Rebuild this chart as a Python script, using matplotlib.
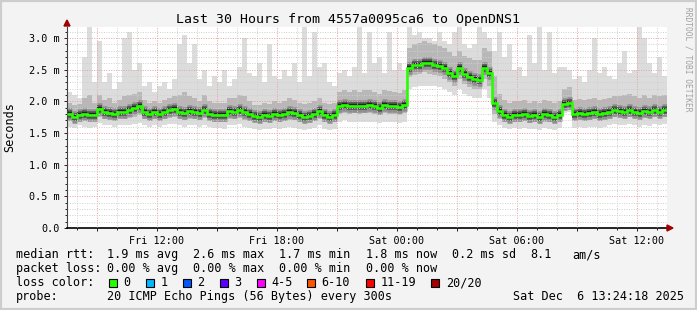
import numpy as np
import matplotlib
matplotlib.use("Agg")
import matplotlib.pyplot as plt
from matplotlib.patches import Rectangle, Polygon

# SmokePing style graph: last 30 hours, one value every 15 minutes (ms)
# x axis is hours since Fri 07:30
rtt_median = [
    1.80, 1.76, 1.79, 1.80, 1.78, 1.79, 1.88, 1.84, 1.82, 1.80, 1.84, 1.84,
    1.86, 1.90, 1.93, 1.84, 1.80, 1.83, 1.80, 1.84, 1.86, 1.88, 1.84, 1.82,
    1.85, 1.84, 1.82, 1.86, 1.80, 1.79, 1.79, 1.78, 1.85, 1.84, 1.86, 1.83,
    1.80, 1.77, 1.76, 1.78, 1.77, 1.80, 1.78, 1.80, 1.83, 1.81, 1.78, 1.76,
    1.77, 1.80, 1.85, 1.78, 1.76, 1.78, 1.93, 1.94, 1.92, 1.93, 1.92, 1.93,
    1.94, 1.92, 1.90, 1.94, 1.93, 1.92, 1.91, 1.94, 2.52, 2.57, 2.58, 2.61,
    2.60, 2.58, 2.56, 2.52, 2.45, 2.40, 2.52, 2.43, 2.38, 2.35, 2.34, 2.52,
    2.45, 1.98, 1.85, 1.78, 1.76, 1.79, 1.78, 1.80, 1.77, 1.78, 1.76, 1.80,
    1.78, 1.76, 1.79, 1.96, 1.97, 1.80, 1.82, 1.80, 1.81, 1.83, 1.80, 1.82,
    1.84, 1.86, 1.85, 1.84, 1.86, 1.84, 1.82, 1.85, 1.83, 1.86, 1.84, 1.86]

smoke_max = [
    2.15, 2.10, 2.05, 2.70, 3.17, 2.30, 2.95, 2.30, 2.45, 2.20, 2.30, 3.00,
    3.10, 2.50, 2.60, 2.25, 2.30, 2.15, 2.25, 2.30, 2.20, 2.35, 2.90, 3.05,
    2.60, 2.90, 2.35, 2.50, 2.25, 2.40, 2.30, 2.50, 2.25, 2.35, 2.55, 3.00,
    2.45, 2.40, 2.60, 2.30, 2.90, 2.40, 2.35, 2.50, 2.40, 2.60, 2.30, 3.17,
    2.40, 3.10, 2.55, 2.60, 2.30, 2.25, 2.45, 2.50, 2.40, 2.55, 3.17, 2.45,
    3.10, 2.60, 2.70, 2.45, 3.10, 2.50, 2.60, 2.50, 3.17, 3.05, 3.10, 3.00,
    3.00, 2.95, 3.10, 2.95, 2.90, 3.10, 3.17, 2.90, 2.85, 2.90, 3.17, 3.10,
    3.00, 2.80, 3.10, 2.70, 2.90, 2.50, 2.55, 2.40, 3.05, 2.60, 3.17, 2.50,
    3.10, 2.45, 2.55, 2.55, 2.50, 2.35, 2.40, 2.30, 2.50, 3.00, 2.45, 2.55,
    2.40, 2.35, 2.60, 2.80, 2.45, 2.50, 3.17, 3.00, 2.60, 2.45, 2.70, 2.40]

smoke_min = [
    1.60, 1.58, 1.62, 1.60, 1.58, 1.60, 1.66, 1.62, 1.62, 1.60, 1.63, 1.62,
    1.62, 1.64, 1.66, 1.62, 1.60, 1.62, 1.60, 1.62, 1.64, 1.65, 1.62, 1.60,
    1.62, 1.62, 1.60, 1.63, 1.60, 1.58, 1.58, 1.57, 1.62, 1.62, 1.64, 1.60,
    1.58, 1.56, 1.55, 1.57, 1.56, 1.58, 1.57, 1.58, 1.60, 1.58, 1.57, 1.55,
    1.56, 1.58, 1.62, 1.57, 1.55, 1.57, 1.68, 1.70, 1.68, 1.68, 1.67, 1.68,
    1.68, 1.67, 1.66, 1.68, 1.68, 1.67, 1.66, 1.68, 2.20, 2.22, 2.25, 2.25,
    2.25, 2.25, 2.22, 2.20, 2.15, 2.10, 2.20, 2.12, 2.08, 2.05, 2.05, 2.20,
    2.05, 1.68, 1.62, 1.58, 1.56, 1.58, 1.57, 1.58, 1.56, 1.57, 1.55, 1.58,
    1.57, 1.55, 1.58, 1.82, 1.84, 1.58, 1.60, 1.58, 1.59, 1.60, 1.58, 1.60,
    1.62, 1.64, 1.63, 1.62, 1.64, 1.62, 1.60, 1.63, 1.61, 1.64, 1.62, 1.64]

smoke_hi = [
    1.98, 1.95, 1.96, 2.05, 2.10, 1.98, 2.10, 2.02, 2.05, 1.98, 2.02, 2.08,
    2.10, 2.12, 2.15, 2.02, 1.98, 2.00, 1.98, 2.02, 2.05, 2.08, 2.10, 2.15,
    2.08, 2.05, 2.00, 2.10, 2.00, 1.98, 1.98, 1.98, 2.05, 2.05, 2.10, 2.08,
    2.00, 1.95, 1.95, 1.98, 1.96, 2.00, 1.98, 2.00, 2.05, 2.02, 1.98, 1.96,
    1.98, 2.00, 2.05, 1.98, 1.96, 1.98, 2.15, 2.18, 2.15, 2.18, 2.15, 2.18,
    2.18, 2.15, 2.12, 2.18, 2.16, 2.15, 2.14, 2.18, 2.85, 2.90, 2.92, 2.95,
    2.92, 2.90, 2.88, 2.85, 2.78, 2.72, 2.80, 2.72, 2.68, 2.65, 2.66, 2.85,
    2.80, 2.40, 2.12, 2.02, 1.98, 2.00, 2.00, 2.02, 1.98, 2.00, 1.98, 2.02,
    2.00, 1.98, 2.00, 2.20, 2.22, 2.02, 2.04, 2.02, 2.03, 2.05, 2.02, 2.04,
    2.06, 2.08, 2.08, 2.10, 2.12, 2.08, 2.05, 2.10, 2.06, 2.10, 2.08, 2.10]

smoke_lo = [
    1.70, 1.68, 1.70, 1.70, 1.69, 1.70, 1.76, 1.72, 1.72, 1.70, 1.73, 1.72,
    1.74, 1.76, 1.78, 1.72, 1.70, 1.72, 1.70, 1.72, 1.74, 1.76, 1.72, 1.70,
    1.72, 1.72, 1.70, 1.74, 1.70, 1.68, 1.68, 1.68, 1.72, 1.72, 1.74, 1.71,
    1.69, 1.67, 1.66, 1.68, 1.67, 1.69, 1.68, 1.69, 1.71, 1.70, 1.68, 1.66,
    1.68, 1.69, 1.72, 1.68, 1.66, 1.68, 1.80, 1.82, 1.80, 1.81, 1.80, 1.81,
    1.81, 1.80, 1.78, 1.81, 1.80, 1.80, 1.79, 1.81, 2.38, 2.42, 2.44, 2.46,
    2.44, 2.42, 2.40, 2.36, 2.30, 2.25, 2.36, 2.28, 2.22, 2.20, 2.20, 2.36,
    2.25, 1.80, 1.72, 1.68, 1.66, 1.68, 1.67, 1.69, 1.66, 1.67, 1.65, 1.68,
    1.68, 1.66, 1.69, 1.88, 1.89, 1.70, 1.72, 1.70, 1.71, 1.73, 1.70, 1.72,
    1.74, 1.76, 1.75, 1.74, 1.76, 1.74, 1.72, 1.75, 1.73, 1.76, 1.74, 1.76]

y_ticks = [0.0, 0.5, 1.0, 1.5, 2.0, 2.5, 3.0]
y_tick_labels = ["0.0", "0.5 m", "1.0 m", "1.5 m", "2.0 m", "2.5 m", "3.0 m"]
x_major = [1.5, 4.5, 7.5, 10.5, 13.5, 16.5, 19.5, 22.5, 25.5, 28.5]
x_major_labels = ["", "Fri 12:00", "", "Fri 18:00", "", "Sat 00:00", "", "Sat 06:00", "", "Sat 12:00"]

rtt_items = ["1.9 ms avg", "2.6 ms max", "1.7 ms min", "1.8 ms now", "0.2 ms sd", "8.1", "am/s"]
loss_items = ["0.00 % avg", "0.00 % max", "0.00 % min", "0.00 % now"]
loss_labels = ["0", "1", "2", "3", "4-5", "6-10", "11-19", "20/20"]
loss_colors = ["#26ff00", "#00b8ff", "#0059ff", "#5e00ff", "#ff00ff", "#ff5500", "#ff0000", "#a10000"]

W, H = 697, 310
MONO = "DejaVu Sans Mono"


def px(x, y):
    # pixel position (top-left origin) -> figure fraction
    return x / W, 1 - y / H


fig = plt.figure(figsize=(W / 100, H / 100), dpi=100)
fig.patch.set_facecolor("#f3f3f3")
fig.patches.append(Rectangle((0, 0), 1, 1, transform=fig.transFigure, fill=False,
                             edgecolor="#cdcdcd", lw=3))

ax = fig.add_axes([67 / W, (H - 228) / H, 600 / W, 201 / H])
ax.set_facecolor("white")

edges = np.arange(len(rtt_median) + 1) * 0.25

# smoke
ax.stairs(smoke_max, edges, baseline=smoke_min, fill=True, color="#dcdcdc", zorder=1)
ax.stairs(smoke_hi, edges, baseline=smoke_lo, fill=True, color="#b8b8b8", zorder=1.1)
# darker smoke hugging the median: horizontal pieces only, no thick risers
ax.hlines(rtt_median, edges[:-1], edges[1:], color="#8e8e8e", lw=9, capstyle="butt", zorder=1.2)
ax.hlines(rtt_median, edges[:-1], edges[1:], color="#555555", lw=5.5, capstyle="butt", zorder=1.3)
ax.hlines(rtt_median, edges[:-1], edges[1:], color="#222222", lw=3, capstyle="butt", zorder=1.4)
# median rtt, coloured by loss (0 loss everywhere)
ax.stairs(rtt_median, edges, baseline=None, color=loss_colors[0], lw=1.9, zorder=3)

ax.set_xlim(0, 30)
ax.set_ylim(0, 3.175)

ax.set_yticks(y_ticks)
ax.set_yticklabels(y_tick_labels)
ax.set_yticks(np.arange(0, 3.15, 0.1), minor=True)
ax.set_xticks(x_major)
ax.set_xticklabels(x_major_labels)
ax.set_xticks(np.arange(0.5, 30, 1.0), minor=True)

ax.set_axisbelow(False)
ax.grid(which="minor", color="#cfcfcf", ls=(0, (1, 1.5)), lw=0.7, zorder=2)
ax.grid(which="major", color="#e8a0a0", ls=(0, (1, 1.5)), lw=0.7, zorder=2.1)

for s in ["top", "right"]:
    ax.spines[s].set_visible(False)
ax.spines["left"].set_color("#404040")
ax.spines["bottom"].set_color("black")
ax.spines["left"].set_linewidth(0.8)
ax.spines["bottom"].set_linewidth(1.2)

ax.tick_params(which="both", direction="out", colors="black", labelsize=7.3, width=0.6)
ax.tick_params(which="major", length=2.5, pad=3)
ax.tick_params(which="minor", length=1.5)
for lab in ax.get_xticklabels() + ax.get_yticklabels():
    lab.set_family(MONO)

# axis arrows
arrow_col = "#a00000"
fig.patches.append(Polygon([px(64, 26), px(70, 26), px(67, 20)], closed=True,
                           transform=fig.transFigure, color=arrow_col))
fig.patches.append(Polygon([px(667, 225), px(667, 231), px(673, 228)], closed=True,
                           transform=fig.transFigure, color=arrow_col))

# texts
fig.text(*px(348, 19), "Last 30 Hours from 4557a0095ca6 to OpenDNS1", family=MONO,
         fontsize=9.5, ha="center", va="center")
fig.text(*px(10, 127), "Seconds", family=MONO, fontsize=8.5, rotation=90,
         ha="center", va="center")
fig.text(*px(688, 59), "RRDTOOL / TOBI OETIKER", family=MONO, fontsize=5.7,
         rotation=270, ha="center", va="center", color="#a0a0a0")

cols = [107.3, 193.3, 279.3, 366, 451.7, 530, 572.3]
fs = 8.5
fig.text(*px(16, 254.5), "median rtt:", family=MONO, fontsize=fs, va="center")
for x, t in zip(cols, rtt_items):
    fig.text(*px(x, 254.5), t, family=MONO, fontsize=fs, va="center")

fig.text(*px(16, 268.5), "packet loss:", family=MONO, fontsize=fs, va="center")
for x, t in zip(cols, loss_items):
    fig.text(*px(x, 268.5), t, family=MONO, fontsize=fs, va="center")

fig.text(*px(16, 282.5), "loss color:", family=MONO, fontsize=fs, va="center")
box_x = [108.7, 146, 183.3, 220, 257.3, 307.3, 366, 430.7]
lab_x = [123.3, 160.7, 197.3, 234.3, 271.7, 321.7, 380.7, 446]
for bx, lx, t, c in zip(box_x, lab_x, loss_labels, loss_colors):
    x0, y0 = px(bx, 286.5)
    fig.patches.append(Rectangle((x0, y0), 8 / W, 8 / H, transform=fig.transFigure,
                                 facecolor=c, edgecolor="black", lw=0.8))
    fig.text(*px(lx, 282.5), t, family=MONO, fontsize=fs, va="center")

fig.text(*px(16, 296.5), "probe:", family=MONO, fontsize=fs, va="center")
fig.text(*px(107.3, 296.5), "20 ICMP Echo Pings (56 Bytes) every 300s", family=MONO,
         fontsize=fs, va="center")
fig.text(*px(513.3, 296.5), "Sat Dec  6 13:24:18 2025", family=MONO, fontsize=fs, va="center")

fig.savefig("out.png", dpi=100, facecolor=fig.get_facecolor())
